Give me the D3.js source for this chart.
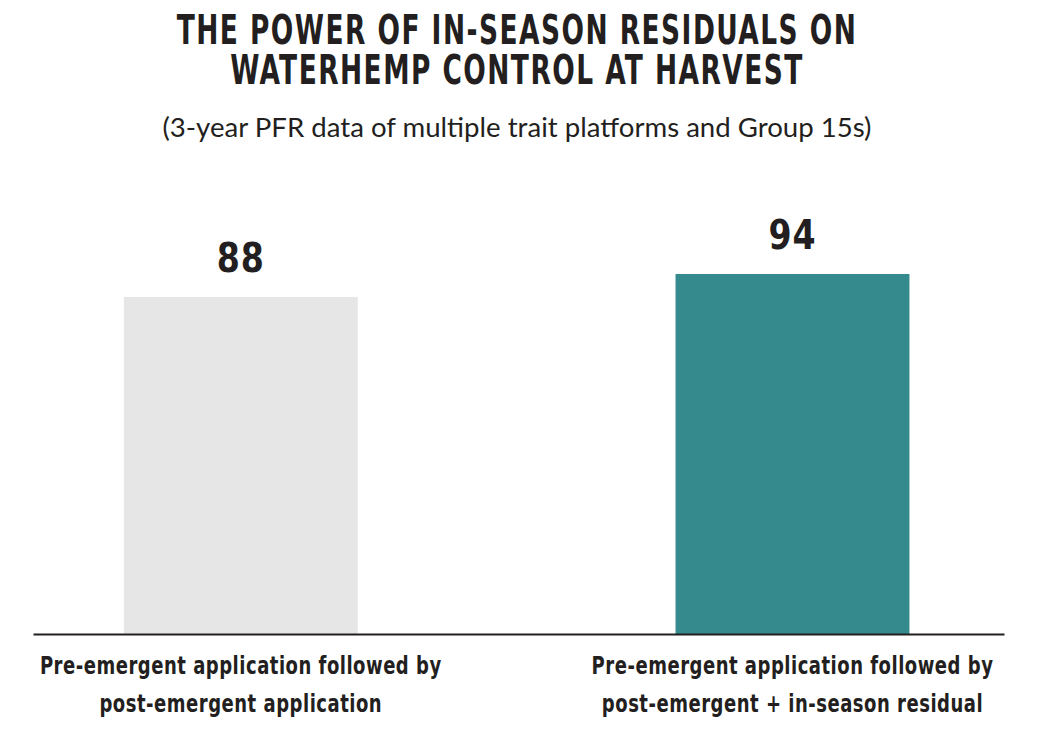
<!DOCTYPE html>
<html>
<head>
<meta charset="utf-8">
<script src="https://cdn.jsdelivr.net/npm/d3@7"></script>
<style>
  body { margin: 0; background: #fff; }
  svg text { fill: #231f20; }
</style>
</head>
<body>
<svg id="chart" width="1040" height="733"></svg>
<script>
(function(){
var titleLines = ['THE POWER OF IN-SEASON RESIDUALS ON', 'WATERHEMP CONTROL AT HARVEST']
var subtitle = '(3-year PFR data of multiple trait platforms and Group 15s)'
var categories = ['pre-post', 'pre-post-residual']
var categoryLabels = [
    ['Pre-emergent application followed by', 'post-emergent application'],
    ['Pre-emergent application followed by', 'post-emergent + in-season residual']
]
var values = [88, 94]
var colors = ['#e6e6e6', '#348a8c']

var svg = d3.select('#chart'),
    margin = {top: 251, right: 36, bottom: 99, left: 33},
    width = +svg.attr('width') - margin.left - margin.right,
    height = +svg.attr('height') - margin.top - margin.bottom,
    g = svg.append('g').attr('transform', 'translate(' + margin.left + ',' + margin.top + ')')

// the original uses a DIN-style condensed face; squeeze DejaVu Condensed a bit more
var condensed = "'DejaVu Sans Condensed', 'DejaVu Sans', sans-serif"
var titleSqueeze = 0.735, valueSqueeze = 0.9, labelSqueeze = 0.835

// title
svg.append('g').selectAll('text')
    .data(titleLines)
    .enter().append('text')
    .attr('transform', function(d, i) { return 'translate(517,' + (44 + i * 40) + ') scale(' + titleSqueeze + ',1)' })
    .attr('text-anchor', 'middle')
    .style('font-family', condensed)
    .style('font-weight', 'bold')
    .style('font-size', '40px')
    .style('letter-spacing', '2px')
    .text(function(d) { return d })

svg.append('text')
    .attr('x', 517)
    .attr('y', 137)
    .attr('text-anchor', 'middle')
    .style('font-family', 'Lato, sans-serif')
    .style('font-weight', 400)
    .style('font-size', '27.6px')
    .text(subtitle)

var x = d3.scaleBand()
    .domain(categories)
    .range([0, width])
    .paddingInner(0.576)
    .paddingOuter(0.168)
    .align(0.49)

var y = d3.scaleLinear()
    .domain([0, 100])
    .range([height, 0])

g.selectAll('.bar')
    .data(values)
    .enter().append('rect')
    .attr('class', 'bar')
    .attr('x', function(d, i) { return x(categories[i]) })
    .attr('y', function(d) { return y(d) })
    .attr('width', x.bandwidth())
    .attr('height', function(d) { return height - y(d) })
    .attr('fill', function(d, i) { return colors[i] })

g.selectAll('.value')
    .data(values)
    .enter().append('text')
    .attr('class', 'value')
    .attr('transform', function(d, i) {
        return 'translate(' + (x(categories[i]) + x.bandwidth() / 2) + ',' + (y(d) - 25) + ') scale(' + valueSqueeze + ',1)'
    })
    .attr('text-anchor', 'middle')
    .style('font-family', condensed)
    .style('font-weight', 'bold')
    .style('font-size', '41px')
    .style('letter-spacing', '1px')
    .text(function(d) { return d })

// baseline axis
var xAxis = g.append('g')
    .attr('transform', 'translate(0,' + height + ')')
    .call(d3.axisBottom(x).tickSize(0).tickFormat(''))
xAxis.select('.domain').attr('stroke', '#231f20').attr('stroke-width', 2)

var labels = g.selectAll('.cat')
    .data(categories)
    .enter().append('text')
    .attr('class', 'cat')
    .attr('text-anchor', 'middle')
    .attr('transform', function(d) {
        return 'translate(' + (x(d) + x.bandwidth() / 2) + ',' + (height + 40) + ') scale(' + labelSqueeze + ',1)'
    })
    .style('font-family', condensed)
    .style('font-weight', 'bold')
    .style('font-size', '24px')
    .style('letter-spacing', '0.6px')

labels.selectAll('tspan')
    .data(function(d, i) { return categoryLabels[i] })
    .enter().append('tspan')
    .attr('x', 0)
    .attr('y', function(d, i) { return i * 38 })
    .text(function(d) { return d })
})()
</script>
</body>
</html>
